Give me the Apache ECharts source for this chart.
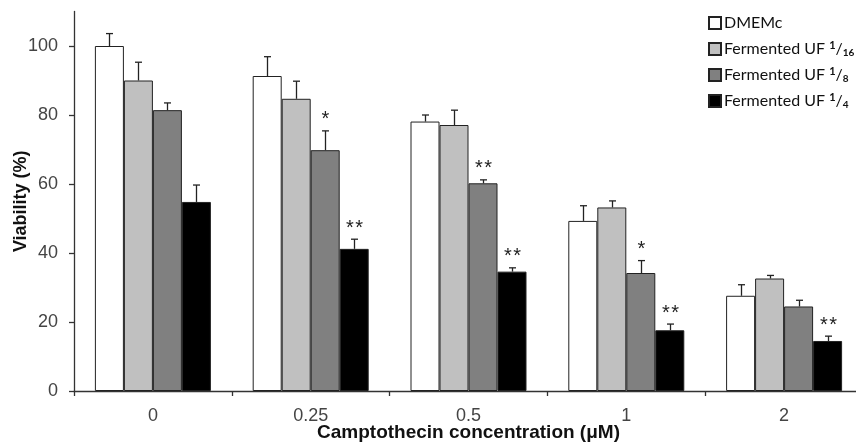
<!DOCTYPE html>
<html>
<head>
<meta charset="utf-8">
<script src="https://cdn.jsdelivr.net/npm/echarts@6/dist/echarts.min.js"></script>
<style>
  html, body { margin: 0; padding: 0; background: #fff; }
  #main { width: 856px; height: 446px; }
</style>
</head>
<body>
<div id="main"></div>
<script>
// viability (%) per camptothecin concentration
var categories = ['0', '0.25', '0.5', '1', '2'];
var seriesNames = ['DMEMc', 'Fermented UF 1/16', 'Fermented UF 1/8', 'Fermented UF 1/4'];

var dmemc = [100, 91.3, 78.1, 49.3, 27.6];
var uf16 = [90.0, 84.7, 77.1, 53.2, 32.6];
var uf8 = [81.4, 69.8, 60.2, 34.2, 24.5];
var uf4 = [54.8, 41.2, 34.6, 17.6, 14.5];

// upper error (SD)
var dmemcErr = [3.6, 5.6, 1.9, 4.4, 3.2];
var uf16Err = [5.3, 5.1, 4.3, 1.9, 0.9];
var uf8Err = [2.1, 5.6, 1.0, 3.6, 1.8];
var uf4Err = [4.9, 2.8, 1.1, 1.8, 1.4];

// significance marks
var dmemcSig = ['', '', '', '', ''];
var uf16Sig = ['', '', '', '', ''];
var uf8Sig = ['', '*', '**', '*', ''];
var uf4Sig = ['', '**', '**', '**', '**'];

var yTicks = [0, 20, 40, 60, 80, 100];

var values = [dmemc, uf16, uf8, uf4];
var errors = [dmemcErr, uf16Err, uf8Err, uf4Err];
var sigs = [dmemcSig, uf16Sig, uf8Sig, uf4Sig];
var colors = ['#ffffff', '#c0c0c0', '#808080', '#000000'];

var BAR_W = 29;

var errRows = [];
values.forEach(function (vals, s) {
    vals.forEach(function (v, c) {
        errRows.push({ cat: c, s: s, v: v, e: errors[s][c], sig: sigs[s][c] });
    });
});

function legendText(name) {
    var m = name.match(/^(.*) (\d+)\/(\d+)$/);
    if (!m) return name;
    return m[1] + ' {sup|' + m[2] + '}{sl|/}{sub|' + m[3] + '}';
}

var myChart = echarts.init(document.getElementById('main'));

var series = seriesNames.map(function (name, s) {
    return {
        name: name,
        type: 'bar',
        data: values[s],
        barWidth: BAR_W,
        barGap: '0%',
        itemStyle: { color: colors[s], borderColor: '#222', borderWidth: 1 },
        z: 2
    };
});

series.push({
    type: 'custom',
    name: 'err',
    data: errRows.map(function (r) { return [r.cat, r.s, r.v, r.e]; }),
    encode: { x: 0, y: 2 },
    z: 5,
    silent: true,
    renderItem: function (params, api) {
        var r = errRows[params.dataIndex];
        var base = api.coord([r.cat, r.v]);
        var top = api.coord([r.cat, r.v + r.e]);
        var x = Math.round(base[0] + (r.s - 1.5) * BAR_W) + 0.5;
        var stroke = { stroke: '#222', lineWidth: 1.3 };
        var kids = [
            { type: 'line', shape: { x1: x, y1: base[1], x2: x, y2: top[1] }, style: stroke },
            { type: 'line', shape: { x1: x - 3.5, y1: top[1], x2: x + 3.5, y2: top[1] }, style: stroke }
        ];
        if (r.sig) {
            kids.push({
                type: 'text',
                x: x,
                y: top[1] - 11,
                style: {
                    text: r.sig.split('').join('\u200a'),
                    fill: '#222',
                    font: '20px "Liberation Sans", Arial, sans-serif',
                    align: 'center',
                    verticalAlign: 'middle'
                }
            });
        }
        return { type: 'group', children: kids };
    }
});

myChart.setOption({
    animation: false,
    backgroundColor: '#fff',
    grid: {
        left: 74,
        right: -7,
        top: 11.5,
        bottom: 55,
        outerBoundsMode: 'none'
    },
    legend: {
        data: seriesNames,
        orient: 'vertical',
        left: 703,
        top: 9,
        itemWidth: 12,
        itemHeight: 12,
        itemGap: 8,
        icon: 'rect',
        formatter: legendText,
        textStyle: {
            fontFamily: 'Lato',
            fontSize: 16,
            color: '#111',
            lineHeight: 18,
            padding: [0, 0, 0, -2],
            rich: {
                sup: { fontFamily: 'Lato', fontSize: 11, fontWeight: 'bold', verticalAlign: 'top', lineHeight: 18, color: '#111' },
                sl: { fontFamily: 'Lato', fontSize: 16, lineHeight: 18, color: '#111' },
                sub: { fontFamily: 'Lato', fontSize: 10, fontWeight: 'bold', verticalAlign: 'bottom', lineHeight: 18, color: '#111' }
            }
        }
    },
    xAxis: {
        type: 'category',
        data: categories,
        name: 'Camptothecin concentration (\u03bcM)',
        nameLocation: 'middle',
        nameGap: 32,
        nameMoveOverlap: false,
        nameTextStyle: { fontFamily: 'Liberation Sans', fontWeight: 'bold', fontSize: 19, color: '#111' },
        axisLine: { lineStyle: { color: '#333', width: 1.3 } },
        axisTick: { show: true, length: 5, lineStyle: { color: '#333', width: 1.3 } },
        axisLabel: { fontFamily: 'Liberation Sans', fontSize: 18, color: '#444', margin: 16 }
    },
    yAxis: {
        type: 'value',
        min: 0,
        max: 110,
        interval: 20,
        name: 'Viability (%)',
        nameLocation: 'middle',
        nameGap: 44,
        nameMoveOverlap: false,
        nameTextStyle: { fontFamily: 'Liberation Sans', fontWeight: 'bold', fontSize: 18, color: '#111' },
        splitLine: { show: false },
        axisLine: { show: true, lineStyle: { color: '#333', width: 1.3 } },
        axisTick: { show: true, length: 5, customValues: yTicks, lineStyle: { color: '#333', width: 1.3 } },
        axisLabel: { fontFamily: 'Liberation Sans', fontSize: 18, color: '#444', margin: 16, customValues: yTicks }
    },
    series: series
});
</script>
</body>
</html>
